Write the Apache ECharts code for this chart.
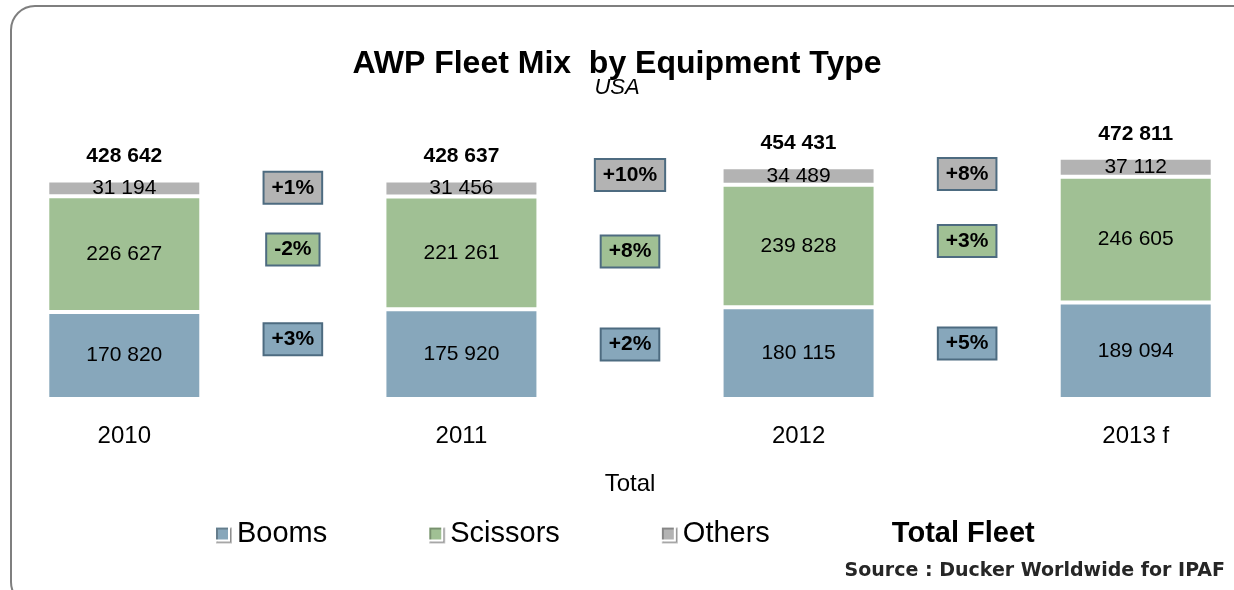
<!DOCTYPE html>
<html>
<head>
<meta charset="utf-8">
<script src="https://cdn.jsdelivr.net/npm/echarts@6/dist/echarts.min.js"></script>
<style>
html, body { margin: 0; padding: 0; background: #fff; }
#main { width: 1234px; height: 590px; }
</style>
</head>
<body>
<div id="main"></div>
<script>
// data
var years = ['2010', '2011', '2012', '2013 f'];
var booms = [170820, 175920, 180115, 189094];
var scissors = [226627, 221261, 239828, 246605];
var others = [31194, 31456, 34489, 37112];
var totals = [428642, 428637, 454431, 472811];

// year on year change, between two years
var boomsChange = ['+3%', '+2%', '+5%'];
var scissorsChange = ['-2%', '+8%', '+3%'];
var othersChange = ['+1%', '+10%', '+8%'];
// where the change boxes sit (in fleet units)
var boomsChangeAt = [117000, 107000, 109000];
var scissorsChangeAt = [293000, 289000, 310000];
var othersChangeAt = [414000, 439000, 441000];

var FONT = 'Liberation Sans, Arial, sans-serif';
var BLUE = '#87A7BB', GREEN = '#A0C094', GREY = '#B3B3B3';

function fmt(v) {
    return String(v).replace(/\B(?=(\d{3})+(?!\d))/g, ' ');
}

// years with a blank slot between them
var cats = [];
years.forEach(function (y, i) {
    cats.push(y);
    if (i < years.length - 1) cats.push('gap' + i);
});
function onYears(arr) {
    var out = [];
    arr.forEach(function (v, i) {
        out.push(v);
        if (i < arr.length - 1) out.push('-');
    });
    return out;
}
function onGaps(pos) {
    return pos.map(function (v, i) { return [i * 2 + 1, v]; });
}

function barSeries(name, arr, color) {
    return {
        name: name,
        type: 'bar',
        stack: 'fleet',
        barWidth: 154,
        data: onYears(arr),
        itemStyle: { color: color, borderColor: '#fff', borderWidth: 2 },
        label: {
            show: true, position: 'inside', color: '#000',
            textBorderWidth: 0,
            fontFamily: FONT, fontSize: 21,
            formatter: function (p) { return fmt(p.value); }
        }
    };
}

function changeSeries(name, labels, pos, color) {
    return {
        name: name,
        type: 'scatter',
        symbolSize: 1,
        itemStyle: { color: 'transparent', opacity: 1 },
        data: onGaps(pos),
        label: {
            show: true, position: 'inside',
            fontFamily: FONT, fontSize: 21, fontWeight: 'bold', color: '#000',
            textBorderWidth: 0,
            backgroundColor: color, borderColor: '#4D6B80', borderWidth: 2,
            padding: [5, 7, 4, 7],
            formatter: function (p) { return labels[p.dataIndex]; }
        }
    };
}

var chart = echarts.init(document.getElementById('main'));
var option = {
    animation: false,
    title: [{
        text: 'AWP Fleet Mix  by Equipment Type',
        left: 'center', top: 43,
        textStyle: { fontFamily: FONT, fontSize: 32, fontWeight: 'bold', color: '#000' }
    }, {
        text: 'USA',
        left: 'center', top: 72,
        textStyle: { fontFamily: FONT, fontSize: 22, fontStyle: 'italic', fontWeight: 'normal', color: '#000' }
    }],
    legend: {
        left: 209, top: 514,
        icon: 'rect', itemWidth: 14, itemHeight: 14, itemGap: 100,
        itemStyle: { shadowColor: 'rgba(0,0,0,0.25)', shadowOffsetX: 2, shadowOffsetY: 2 },
        textStyle: { fontFamily: FONT, fontSize: 29, color: '#000', padding: [0, 0, 0, 3] },
        data: [
            { name: 'Booms' },
            { name: 'Scissors' },
            { name: 'Others' },
            { name: 'Total Fleet', icon: 'none', textStyle: { fontWeight: 'bold' } }
        ]
    },
    grid: { left: 40, right: 14, top: 144, bottom: 191 },
    xAxis: {
        type: 'category',
        data: cats,
        axisLine: { show: false },
        axisTick: { show: false },
        axisLabel: {
            margin: 25, fontFamily: FONT, fontSize: 24, color: '#000',
            formatter: function (v, i) { return i % 2 ? '' : v; }
        },
        name: 'Total',
        nameLocation: 'middle',
        nameGap: 73,
        nameTextStyle: { fontFamily: FONT, fontSize: 24, color: '#000' }
    },
    yAxis: {
        type: 'value', min: 0, max: 500000, show: false,
        splitLine: { show: false }
    },
    series: [
        barSeries('Booms', booms, BLUE),
        barSeries('Scissors', scissors, GREEN),
        barSeries('Others', others, GREY),
        {
            name: 'Total Fleet',
            type: 'scatter',
            symbolSize: 1,
            itemStyle: { color: 'transparent', opacity: 1 },
            data: onYears(totals),
            label: {
                show: true, position: 'top', distance: 13,
                fontFamily: FONT, fontSize: 21, fontWeight: 'bold', color: '#000',
                formatter: function (p) { return fmt(p.value); }
            }
        },
        changeSeries('chgOthers', othersChange, othersChangeAt, GREY),
        changeSeries('chgScissors', scissorsChange, scissorsChangeAt, GREEN),
        changeSeries('chgBooms', boomsChange, boomsChangeAt, BLUE)
    ],
    graphic: [{
        type: 'rect', silent: true, z: -1,
        shape: { x: 11, y: 6, width: 1250, height: 600, r: 24 },
        style: { fill: null, stroke: '#7F7F7F', lineWidth: 2 }
    }, {
        type: 'text', right: 9, top: 562,
        style: {
            text: 'Source : Ducker Worldwide for IPAF',
            font: 'bold 19px "DejaVu Sans", sans-serif',
            fill: '#262626'
        }
    }]
};
chart.setOption(option);
</script>
</body>
</html>
